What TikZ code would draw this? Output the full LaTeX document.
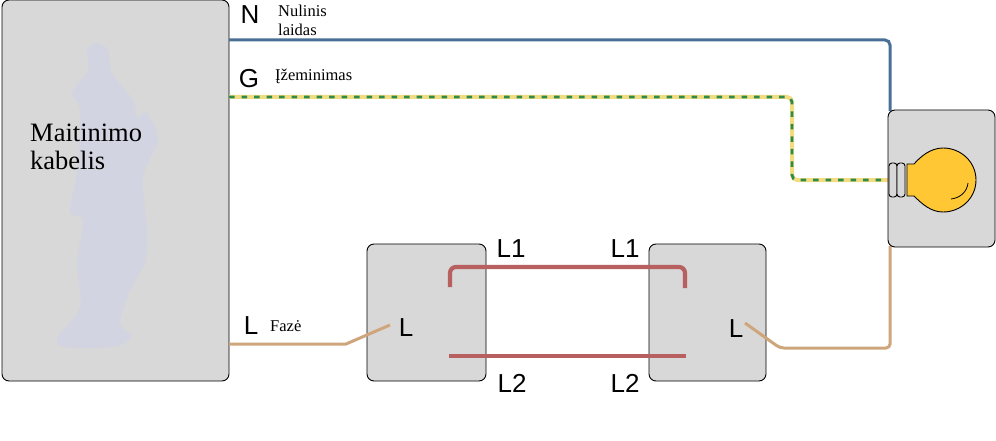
\documentclass[tikz,border=0pt]{standalone}
\usepackage{fontspec}
\setmainfont{Liberation Serif}
\newfontfamily\labelfont{Liberation Sans}
\definecolor{boxgray}{HTML}{D8D8D8}
\definecolor{shadeblue}{HTML}{D3D4E1}
\definecolor{neutralblue}{HTML}{4A6F96}
\definecolor{earthyellow}{HTML}{F2DC82}
\definecolor{earthgreen}{HTML}{2E8B4A}
\definecolor{phasetan}{HTML}{CFA67C}
\definecolor{travelred}{HTML}{B86060}
\definecolor{bulbyellow}{HTML}{FFC733}
\tikzset{
  unitbox/.style={draw=black,fill=boxgray,rounded corners=7pt,line width=0.9pt,inner sep=0pt},
  wirelabel/.style={font=\labelfont\fontsize{26}{26}\selectfont,inner sep=0pt},
  notelabel/.style={font=\fontsize{16.5}{19}\selectfont,inner sep=0pt,align=left},
  neutralwire/.style={neutralblue,line width=3pt,rounded corners=5pt},
  earthbase/.style={earthyellow,line width=4pt,rounded corners=5pt},
  earthdash/.style={earthgreen,line width=2.8pt,rounded corners=5pt,dash pattern=on 5.5pt off 7pt},
  phasewire/.style={phasetan,line width=3pt},
  travelwire/.style={travelred,line width=4.2pt,rounded corners=6pt},
}
\begin{document}
\begin{tikzpicture}[x=1pt,y=-1pt]
\useasboundingbox (0,0) rectangle (996,441);
\node [unitbox,minimum width=227pt,minimum height=381pt] (mains) at (115.5,190.5) {};
\fill [shadeblue] plot [smooth cycle,tension=0.5] coordinates {(97,43) (108,50) (112,73) (133,100) (137,117) (147,113) (158,140) (143,177) (147,230) (145,263) (130,290) (120,323) (132,337) (113,347) (63,347) (58,337) (80,307) (77,263) (83,220) (70,212) (77,173) (80,110) (72,93) (88,70) (87,50)};
\node [font=\fontsize{26.5}{28}\selectfont,inner sep=0pt,align=left,anchor=north west] (maintitle) at (30,124) {Maitinimo\\kabelis};
\node [unitbox,minimum width=119pt,minimum height=137pt] (switchA) at (426.5,312.5) {};
\node [unitbox,minimum width=117pt,minimum height=137pt] (switchB) at (707.5,312.5) {};
\coordinate (nstart) at (229,40);
\coordinate (gstart) at (229,97);
\coordinate (lstart) at (229,344);
\coordinate (gbendA) at (792,97);
\coordinate (gbendB) at (792,180);
\coordinate (aleft) at (390,325);
\coordinate (bright) at (745,323);
\draw [earthbase] (gstart) -- (gbendA) -- (gbendB) -- (888,180);
\draw [earthdash] (gstart) -- (gbendA) -- (gbendB) -- (888,180);
\draw [neutralwire] (nstart) -- (890,40) -- (890,111);
\draw [phasewire] (lstart) -- (346,344) -- (aleft);
\draw [phasewire,rounded corners=4pt] (bright) -- (780,348) -- (890,348) -- (890,246);
\draw [travelwire] (450,287) -- (450,267) -- (685,267) -- (685,288);
\draw [travelred,line width=4.2pt] (449,356) -- (686,356);
\node [unitbox,minimum width=107pt,minimum height=137pt] (lampbox) at (941.5,178.5) {};
\draw [black,line width=0.9pt,fill=boxgray,rounded corners=3pt] (889,163) rectangle (897,197);
\draw [black,line width=0.9pt,fill=boxgray,rounded corners=3pt] (897,163) rectangle (905,197);
\draw [black,line width=0.9pt,fill=bulbyellow] (907,164) -- (914,164) .. controls (921,156) and (931,148) .. (943,148) .. controls (961,148) and (976,162) .. (976,180) .. controls (976,198) and (961,212) .. (943,212) .. controls (931,212) and (922,204) .. (914,196) -- (907,196) -- cycle;
\draw [black,line width=0.8pt] (968,183) .. controls (967,192) and (960,198) .. (951,199);
\node [wirelabel] (nlabel) at (250,15) {N};
\node [wirelabel] (glabel) at (249,79) {G};
\node [wirelabel] (llabel) at (251,326) {L};
\node [wirelabel] (aL) at (406,328) {L};
\node [wirelabel] (bL) at (736,329) {L};
\node [wirelabel] (aLone) at (511,249) {L1};
\node [wirelabel] (bLone) at (625,249) {L1};
\node [wirelabel] (aLtwo) at (512,383) {L2};
\node [wirelabel] (bLtwo) at (625,383) {L2};
\node [notelabel,anchor=north west] (nnote) at (278,5) {Nulinis\\laidas};
\node [notelabel,anchor=west] (gnote) at (275,76) {Įžeminimas};
\node [notelabel,anchor=west] (lnote) at (270,326) {Fazė};
\end{tikzpicture}
\end{document}
